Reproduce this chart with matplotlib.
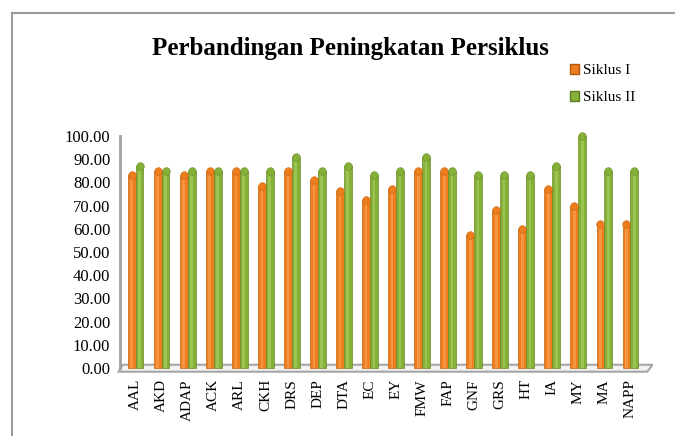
import matplotlib
matplotlib.use("Agg")
import matplotlib.pyplot as plt
from matplotlib.patches import Patch, Polygon
from matplotlib.lines import Line2D

categories = ["AAL", "AKD", "ADAP", "ACK", "ARL", "CKH", "DRS", "DEP", "DTA", "EC",
              "EY", "FMW", "FAP", "GNF", "GRS", "HT", "IA", "MY", "MA", "NAPP"]
siklus_1 = [83, 85, 83, 85, 85, 78.5, 85, 81, 76.5, 72.5,
            77, 85, 85, 57.5, 68, 60, 77, 70, 62, 62]
siklus_2 = [87, 85, 85, 85, 85, 85, 91, 85, 87, 83,
            85, 91, 85, 83, 83, 83, 87, 100, 85, 85]
y_ticks = [0, 10, 20, 30, 40, 50, 60, 70, 80, 90, 100]

plt.rcParams["font.family"] = ["Liberation Serif", "DejaVu Serif"]

W, H = 675, 436
fig = plt.figure(figsize=(W / 100, H / 100), dpi=100)

# outer chart frame (only top and left edges show in the reference)
fig.add_artist(Line2D([12 / W, 1], [1 - 13 / H, 1 - 13 / H], color="#9a9a9a", lw=1.5))
fig.add_artist(Line2D([12 / W, 12 / W], [0, 1 - 13 / H], color="#9a9a9a", lw=1.5))

ax = fig.add_axes([120 / W, (H - 368) / H, (646 - 120) / W, (368 - 136) / H])
ax.set_xlim(-0.6, len(categories) - 0.4)
ax.set_ylim(0, 100)

for s in ["top", "right", "bottom"]:
    ax.spines[s].set_visible(False)
ax.spines["left"].set_color("#a0a0a0")
ax.spines["left"].set_linewidth(2)

# 3D-ish floor
floor = Polygon([(-0.65, -1.6), (len(categories) - 0.35, -1.6),
                 (len(categories) - 0.15, 1.4), (-0.5, 1.4)],
                closed=True, facecolor="#f2f2f2", edgecolor="#a6a6a6",
                lw=1.5, clip_on=False, zorder=1)
ax.add_patch(floor)

x = list(range(len(categories)))
w = 0.3
off = 0.15
x1 = [i - off for i in x]
x2 = [i + off for i in x]

styles = [
    (x1, siklus_1, "#ee7d1e", "#f9a85a", "#c8640f"),
    (x2, siklus_2, "#86b038", "#abd262", "#6a8c2a"),
]
for xs, vals, base, light, dark in styles:
    ax.bar(xs, vals, width=w, color=base, edgecolor=dark, lw=0.5,
           zorder=3, clip_on=False)
    ax.bar(xs, [v - 0.5 for v in vals], width=w * 0.35, color=light,
           lw=0, zorder=4, clip_on=False, alpha=0.6)
    ax.scatter(xs, vals, s=30, color=base, edgecolors=dark, linewidths=0.4,
               zorder=5, clip_on=False)

ax.set_yticks(y_ticks)
ax.set_yticklabels([f"{v:.2f}" for v in y_ticks], fontsize=12)
ax.set_xticks(x)
ax.set_xticklabels(categories, rotation=90, fontsize=11)
ax.tick_params(axis="both", length=0)
ax.tick_params(axis="y", pad=7)
ax.tick_params(axis="x", pad=8)

fig.text(350 / W, 1 - 49 / H, "Perbandingan Peningkatan Persiklus",
         ha="center", va="center", fontsize=18, fontweight="bold")

handles = [Patch(facecolor="#ee7d1e", edgecolor="#b05a10", label="Siklus I"),
           Patch(facecolor="#86b038", edgecolor="#5e7d25", label="Siklus II")]
fig.legend(handles=handles, loc="upper left", bbox_to_anchor=(564 / W, 1 - 58 / H),
           frameon=False, fontsize=11, handlelength=0.6, handleheight=0.6,
           handletextpad=0.25, labelspacing=0.9, borderaxespad=0)

fig.savefig("out.png", dpi=100)
